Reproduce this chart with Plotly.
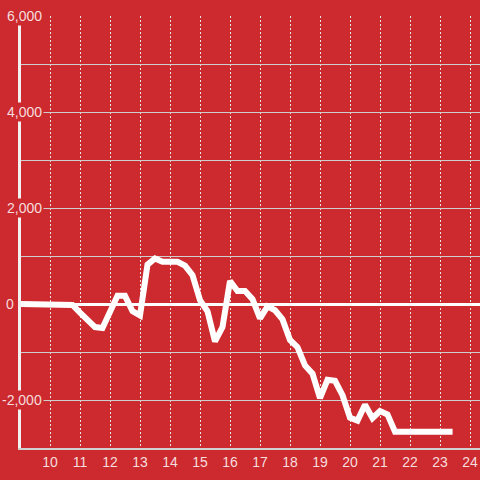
import plotly.graph_objects as go

# ---- data ----
hours = [9.0, 9.25, 9.5, 9.75, 10.0, 10.25, 10.5, 10.75,
         11.0, 11.25, 11.5, 11.75, 12.0, 12.25, 12.5, 12.75,
         13.0, 13.25, 13.5, 13.75, 14.0, 14.25, 14.5, 14.75,
         15.0, 15.25, 15.5, 15.75, 16.0, 16.25, 16.5, 16.75,
         17.0, 17.25, 17.5, 17.75, 18.0, 18.25, 18.5, 18.75,
         19.0, 19.25, 19.5, 19.75, 20.0, 20.25, 20.5, 20.75,
         21.0, 21.25, 21.5, 23.42]
values = [0, 0, 0, 0, 0, 0, 0, -20,
          -180, -330, -480, -500, -150, 170, 170, -150,
          -240, 820, 950, 880, 880, 880, 800, 600,
          80, -150, -780, -480, 480, 270, 270, 100,
          -300, -50, -130, -320, -750, -900, -1280, -1450,
          -1960, -1580, -1600, -1900, -2370, -2430, -2100, -2380,
          -2230, -2300, -2660, -2660]

x_ticks = list(range(10, 25))
y_grid = [-3000, -2000, -1000, 0, 1000, 2000, 3000, 4000, 5000, 6000]
y_label_vals = [6000, 4000, 2000, 0, -2000]
y_label_text = ["6,000", "4,000", "2,000", "0", "-2,000"]

BG = "#cc2a2f"
LABEL = "rgba(255,255,255,0.85)"
FONT = "Liberation Sans, Arial, sans-serif"

fig = go.Figure()
fig.add_trace(go.Scatter(x=hours, y=values, mode="lines",
                         line=dict(color="white", width=6),
                         hoverinfo="skip", showlegend=False))

# plot area: x 21..480 px, y 16..448 px
L, R, T, B = 21, 0, 16, 32
pw = 480 - L - R

annotations = []
for v, t in zip(y_label_vals, y_label_text):
    right_px = 16 if v == 0 else 44
    annotations.append(dict(
        x=(right_px - L) / pw, xref="paper", y=v, yref="y",
        text=t, showarrow=False, xanchor="right", yanchor="middle",
        font=dict(family=FONT, size=14, color=LABEL),
        bgcolor=BG, borderpad=1))

fig.update_layout(
    width=480, height=480,
    margin=dict(l=L, r=R, t=T, b=B, pad=0),
    paper_bgcolor=BG, plot_bgcolor=BG,
    annotations=annotations,
    xaxis=dict(range=[10 - 29 / 30, 24 + 10 / 30], tickvals=x_ticks,
               ticktext=[str(v) for v in x_ticks],
               showgrid=True, gridcolor="#e6e6e6", gridwidth=1, griddash="2px,2px",
               showline=True, linecolor="#d0d0d0", linewidth=2,
               zeroline=False, ticks="",
               tickfont=dict(family=FONT, size=14, color=LABEL)),
    yaxis=dict(range=[-3000, 6000], tickvals=y_grid, showticklabels=False,
               showgrid=True, gridcolor="#cfcfcf", gridwidth=1,
               zeroline=True, zerolinecolor="white", zerolinewidth=3,
               showline=True, linecolor="#f2f2f2", linewidth=3, ticks=""),
)

fig.write_html("out.html", config={"displayModeBar": False},
               post_script="document.body.style.margin='0';document.body.style.padding='0';")
